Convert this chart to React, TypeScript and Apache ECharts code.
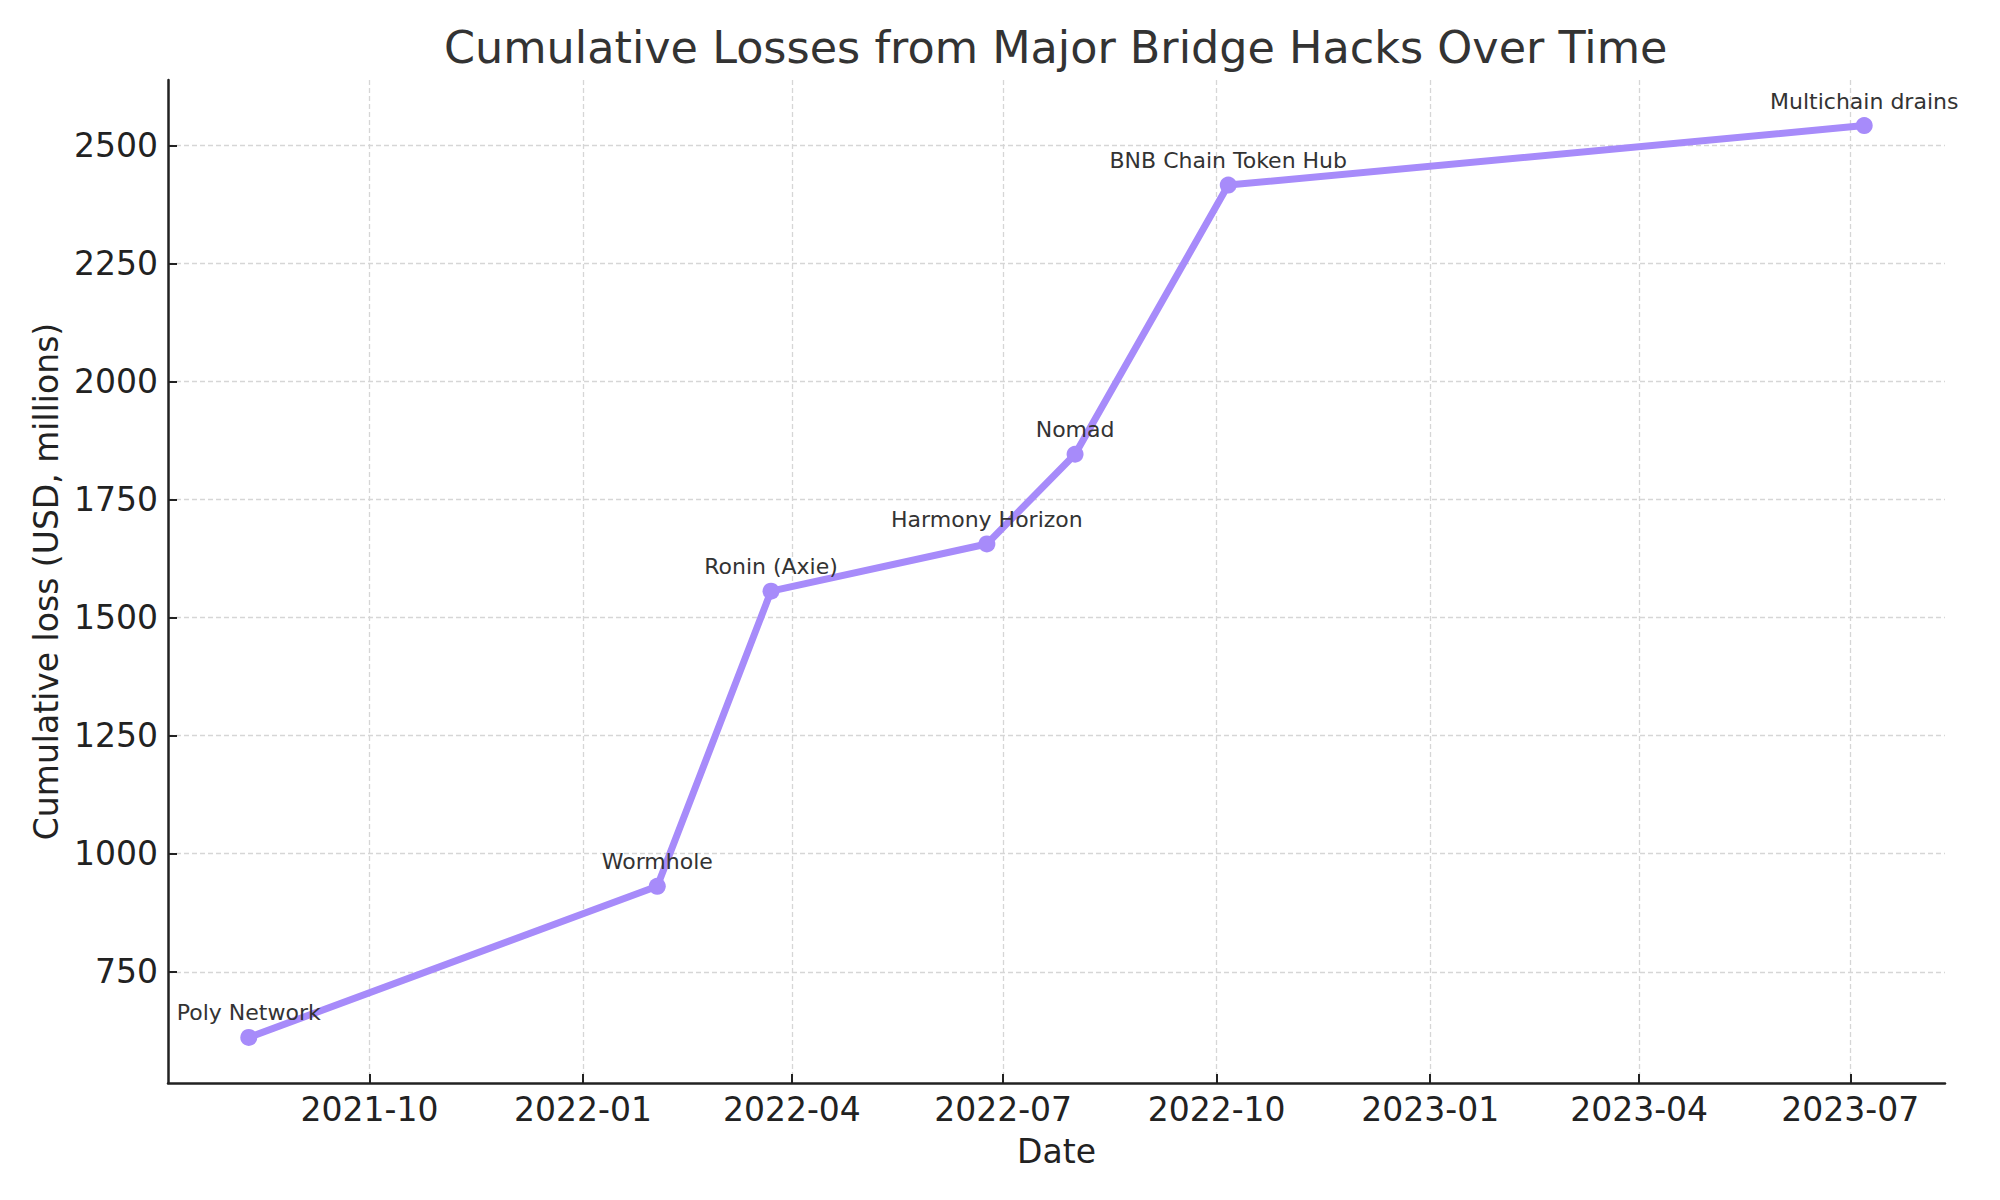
import React, { useEffect, useRef } from "react";
import * as echarts from "echarts";

const hackNames = [
  "Poly Network",
  "Wormhole",
  "Ronin (Axie)",
  "Harmony Horizon",
  "Nomad",
  "BNB Chain Token Hub",
  "Multichain drains",
];
const hackDates = [
  "2021-08-10",
  "2022-02-02",
  "2022-03-23",
  "2022-06-24",
  "2022-08-01",
  "2022-10-06",
  "2023-07-07",
];
const cumulativeLoss = [611, 931, 1556, 1656, 1846, 2416, 2542];
const xTickDates = [
  "2021-10-01",
  "2022-01-01",
  "2022-04-01",
  "2022-07-01",
  "2022-10-01",
  "2023-01-01",
  "2023-04-01",
  "2023-07-01",
];
const yTicks = [750, 1000, 1250, 1500, 1750, 2000, 2250, 2500];

const FONT = "DejaVu Sans";
const LINE_COLOR = "#a78bfa";

function pad(n: number) {
  return n < 10 ? "0" + n : "" + n;
}
function fmtMonth(v: number) {
  const d = new Date(v);
  return d.getUTCFullYear() + "-" + pad(d.getUTCMonth() + 1);
}

export default function App() {
  const ref = useRef<HTMLDivElement>(null);
  useEffect(() => {
    if (!ref.current) return;
    const chart = echarts.init(ref.current, undefined, { renderer: "svg" });
    const xs = hackDates.map((d) => Date.parse(d));
    const xMinD = Math.min(...xs);
    const xMaxD = Math.max(...xs);
    const xPad = (xMaxD - xMinD) * 0.05;
    const yMinD = Math.min(...cumulativeLoss);
    const yMaxD = Math.max(...cumulativeLoss);
    const yPad = (yMaxD - yMinD) * 0.05;
    const xTicks = xTickDates.map((d) => Date.parse(d));
    const data = hackNames.map((n, i) => ({ name: n, value: [xs[i], cumulativeLoss[i]] }));

    chart.setOption({
      animation: false,
      backgroundColor: "#ffffff",
      title: {
        text: "Cumulative Losses from Major Bridge Hacks Over Time",
        left: 444,
        top: 25,
        padding: 0,
        textStyle: { fontFamily: FONT, fontSize: 44.5, fontWeight: "normal", color: "#333333" },
      },
      grid: {
        left: 168,
        right: 55,
        top: 80,
        bottom: 117,
        containLabel: false,
        outerBoundsMode: "none",
      },
      xAxis: {
        type: "value",
        min: xMinD - xPad,
        max: xMaxD + xPad,
        name: "Date",
        nameLocation: "middle",
        nameGap: 52,
        nameTextStyle: { fontFamily: FONT, fontSize: 33, color: "#222222" },
        axisLine: { show: true, onZero: false, lineStyle: { color: "#222222", width: 2.5 } },
        axisTick: {
          show: true,
          inside: true,
          length: 9,
          customValues: xTicks,
          lineStyle: { color: "#222222", width: 2 },
        },
        axisLabel: {
          customValues: xTicks,
          formatter: (v: number) => fmtMonth(v),
          fontFamily: FONT,
          fontSize: 33,
          color: "#222222",
          margin: 10,
        },
        splitLine: {
          show: true,
          lineStyle: { color: "#d6d6d6", width: 1.3, type: [5, 3] },
        },
      },
      yAxis: {
        type: "value",
        min: yMinD - yPad,
        max: yMaxD + yPad,
        name: "Cumulative loss (USD, millions)",
        nameLocation: "middle",
        nameGap: 100,
        nameTextStyle: { fontFamily: FONT, fontSize: 33, color: "#222222" },
        axisLine: { show: true, onZero: false, lineStyle: { color: "#222222", width: 2.5 } },
        axisTick: {
          show: true,
          inside: true,
          length: 9,
          customValues: yTicks,
          lineStyle: { color: "#222222", width: 2 },
        },
        axisLabel: {
          customValues: yTicks,
          formatter: (v: number) => String(Math.round(v)),
          fontFamily: FONT,
          fontSize: 33,
          color: "#222222",
          margin: 10,
        },
        splitLine: {
          show: true,
          lineStyle: { color: "#d6d6d6", width: 1.3, type: [5, 3] },
        },
      },
      series: [
        {
          type: "line",
          data,
          symbol: "circle",
          symbolSize: 17,
          lineStyle: { color: LINE_COLOR, width: 7 },
          itemStyle: { color: LINE_COLOR },
          label: {
            show: true,
            position: "top",
            distance: 5,
            formatter: "{b}",
            fontFamily: FONT,
            fontSize: 22,
            color: "#333333",
          },
          z: 3,
        },
      ],
    });
    return () => chart.dispose();
  }, []);
  return (
    <div
      ref={ref}
      style={{ position: "fixed", left: 0, top: 0, width: 2000, height: 1200, background: "#fff" }}
    />
  );
}
